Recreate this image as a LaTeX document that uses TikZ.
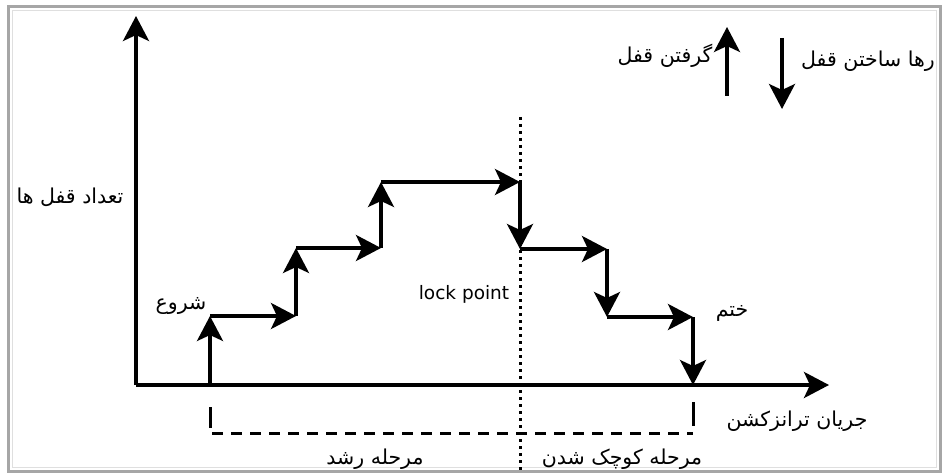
\documentclass[tikz,border=0pt]{standalone}
\usepackage{fontspec}
\setmainfont{DejaVu Sans}
\newfontfamily\arabicfont[Script=Arabic]{DejaVu Sans}
\TeXXeTstate=1
\usetikzlibrary{arrows.meta}

\begin{document}
\begin{tikzpicture}[x=1pt,y=-1pt,
  tip/.style={-{Stealth[length=25pt 0,width=26pt 0,inset=6pt 0]}},
  flow/.style={line width=3.4pt, tip},
  axisline/.style={line width=3.6pt, tip},
  lbl/.style={font=\arabicfont\fontsize{20.5}{22}\selectfont, inner sep=0pt},
  latin/.style={font=\fontsize{18.5}{20}\selectfont, inner sep=0pt},
]
\useasboundingbox (0,0) rectangle (945,476);
% frame
\draw[gray!70, line width=3pt] (8,7) rectangle (940,471);
\draw[gray!25, line width=1pt] (12,11) rectangle (936,467);

% axes
\coordinate (O) at (136,385);
\coordinate (ytop) at (136,16);
\coordinate (xend) at (829,385);
\draw[axisline] (O) -- (ytop);
\draw[axisline] (O) -- (xend);

% lock point marker
\coordinate (lpTop) at (520,117);
\coordinate (lpBot) at (520,471);
\draw[line width=3pt, dash pattern=on 3pt off 4pt] (lpTop) -- (lpBot);

% staircase of lock counts
\coordinate (s0) at (210,385);
\coordinate (s1) at (210,316);
\coordinate (s2) at (296,316);
\coordinate (s3) at (296,248);
\coordinate (s4) at (381,248);
\coordinate (s5) at (381,182);
\coordinate (s6) at (520,182);
\coordinate (s7) at (520,249);
\coordinate (s8) at (607,249);
\coordinate (s9) at (607,317);
\coordinate (s10) at (693,317);
\coordinate (s11) at (693,385);
\foreach \a/\b in {s0/s1,s1/s2,s2/s3,s3/s4,s4/s5,s5/s6,s6/s7,s7/s8,s8/s9,s9/s10,s10/s11}
  \draw[flow] (\a) -- (\b);

% phase bracket
\coordinate (bL0) at (210,407);
\coordinate (bL1) at (210,428);
\coordinate (bR0) at (693,402);
\coordinate (bR1) at (693,426);
\coordinate (hL) at (212,433);
\coordinate (hR) at (693,433);
\draw[line width=3pt] (bL0) -- (bL1);
\draw[line width=3pt] (bR0) -- (bR1);
\draw[line width=3pt, dash pattern=on 11pt off 8pt] (hL) -- (hR);

% legend arrows
\coordinate (ua0) at (727,96);
\coordinate (ua1) at (727,27);
\coordinate (da0) at (782,38);
\coordinate (da1) at (782,109);
\draw[flow] (ua0) -- (ua1);
\draw[flow] (da0) -- (da1);

% labels
\node[lbl] (start) at (181,306) {\beginR شروع\endR};
\node[latin] (lock) at (464,294) {lock point};
\node[lbl] (finish) at (732,313) {\beginR ختم\endR};
\node[lbl] (ylab) at (70,197) {\beginR تعداد قفل ها\endR};
\node[lbl] (xlab) at (797,421) {\beginR جریان ترانزکشن\endR};
\node[lbl] (grow) at (375,459) {\beginR مرحله رشد\endR};
\node[lbl] (shrink) at (622,459) {\beginR مرحله کوچک شدن\endR};
\node[lbl] (acq) at (665,56) {\beginR گرفتن قفل\endR};
\node[lbl] (rel) at (868,61) {\beginR رها ساختن قفل\endR};
\end{tikzpicture}
\end{document}
